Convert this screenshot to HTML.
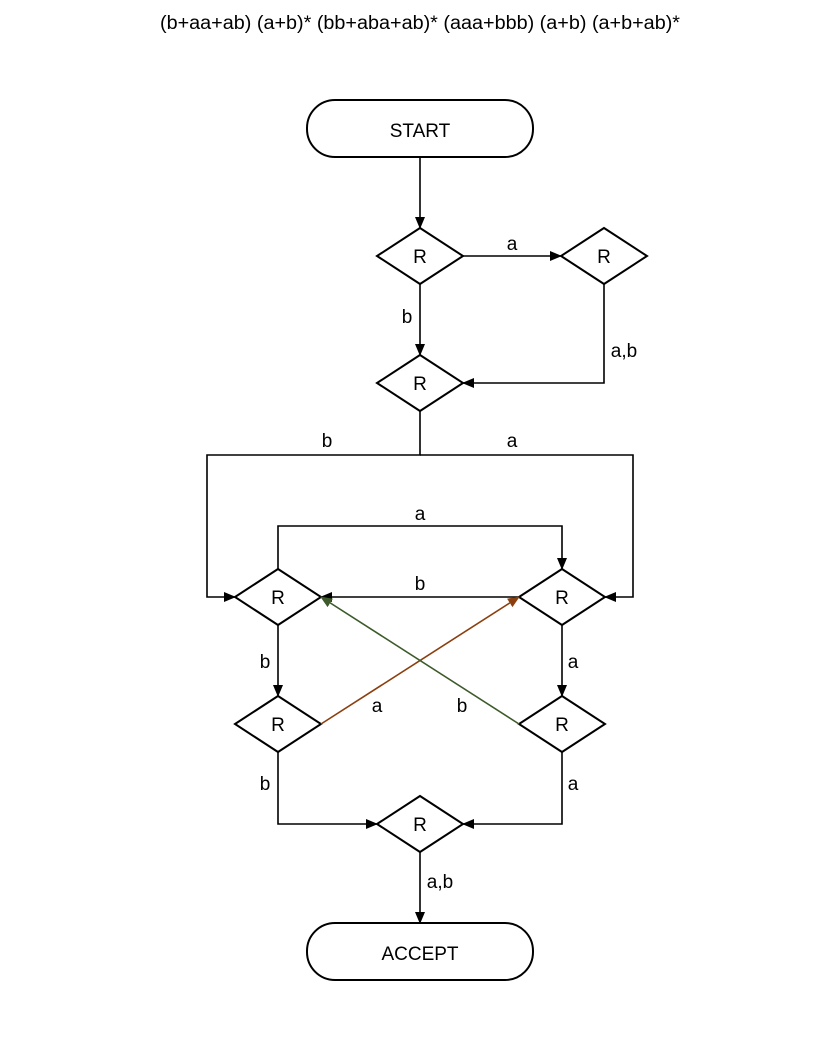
<!DOCTYPE html>
<html><head><meta charset="utf-8"><style>
html,body{margin:0;padding:0;background:#fff}
svg{display:block}
text{font-family:"Liberation Sans Narrow","Liberation Sans",sans-serif;font-size:19px;fill:#000}
</style></head><body>
<svg width="840" height="1040" viewBox="0 0 840 1040" xmlns="http://www.w3.org/2000/svg">
<defs>
<marker id="ak" markerWidth="12" markerHeight="10" refX="11" refY="5" orient="auto" markerUnits="userSpaceOnUse"><path d="M0,0 L12,5 L0,10 z" fill="#000"/></marker>
<marker id="ab" markerWidth="12" markerHeight="10" refX="11" refY="5" orient="auto" markerUnits="userSpaceOnUse"><path d="M0,0 L12,5 L0,10 z" fill="#8B3F0E"/></marker>
<marker id="ag" markerWidth="12" markerHeight="10" refX="11" refY="5" orient="auto" markerUnits="userSpaceOnUse"><path d="M0,0 L12,5 L0,10 z" fill="#3D5A2A"/></marker>
</defs>
<text x="160" y="29" textLength="520" lengthAdjust="spacingAndGlyphs">(b+aa+ab) (a+b)* (bb+aba+ab)* (aaa+bbb) (a+b) (a+b+ab)*</text>
<g fill="none" stroke="#000" stroke-width="2">
<rect x="307" y="100" width="226" height="57" rx="28"/>
<rect x="307" y="923" width="226" height="57" rx="28"/>
<path d="M377,256 L420,228 L463,256 L420,284 Z"/>
<path d="M561,256 L604,228 L647,256 L604,284 Z"/>
<path d="M377,383 L420,355 L463,383 L420,411 Z"/>
<path d="M235,597 L278,569 L321,597 L278,625 Z"/>
<path d="M519,597 L562,569 L605,597 L562,625 Z"/>
<path d="M235,724 L278,696 L321,724 L278,752 Z"/>
<path d="M519,724 L562,696 L605,724 L562,752 Z"/>
<path d="M377,824 L420,796 L463,824 L420,852 Z"/>
</g>
<g fill="none" stroke="#000" stroke-width="1.6">
<path d="M420,157 V228" marker-end="url(#ak)"/>
<path d="M463,256 H561" marker-end="url(#ak)"/>
<path d="M420,284 V355" marker-end="url(#ak)"/>
<path d="M604,284 V383 H463" marker-end="url(#ak)"/>
<path d="M420,411 V455 H207 V597 H235" marker-end="url(#ak)"/>
<path d="M420,455 H633 V597 H605" marker-end="url(#ak)"/>
<path d="M278,569 V526 H562 V569" marker-end="url(#ak)"/>
<path d="M519,597 H321" marker-end="url(#ak)"/>
<path d="M278,625 V696" marker-end="url(#ak)"/>
<path d="M562,625 V696" marker-end="url(#ak)"/>
<path d="M278,752 V824 H377" marker-end="url(#ak)"/>
<path d="M562,752 V824 H463" marker-end="url(#ak)"/>
<path d="M420,852 V923" marker-end="url(#ak)"/>
<path d="M321,724 L519,597" stroke="#8B3F0E" marker-end="url(#ab)"/>
<path d="M519,724 L321,597" stroke="#3D5A2A" marker-end="url(#ag)"/>
</g>
<g text-anchor="middle">
<text x="420" y="137">START</text>
<text x="420" y="960">ACCEPT</text>
<text x="420" y="263">R</text><text x="604" y="263">R</text><text x="420" y="390">R</text>
<text x="278" y="604">R</text><text x="562" y="604">R</text>
<text x="278" y="731">R</text><text x="562" y="731">R</text><text x="420" y="831">R</text>
<text x="512" y="250">a</text>
<text x="407" y="323">b</text>
<text x="624" y="357">a,b</text>
<text x="327" y="447">b</text>
<text x="512" y="447">a</text>
<text x="420" y="520">a</text>
<text x="420" y="590">b</text>
<text x="265" y="668">b</text>
<text x="573" y="668">a</text>
<text x="377" y="712">a</text>
<text x="462" y="712">b</text>
<text x="265" y="790">b</text>
<text x="573" y="790">a</text>
<text x="440" y="888">a,b</text>
</g>
</svg>
</body></html>
